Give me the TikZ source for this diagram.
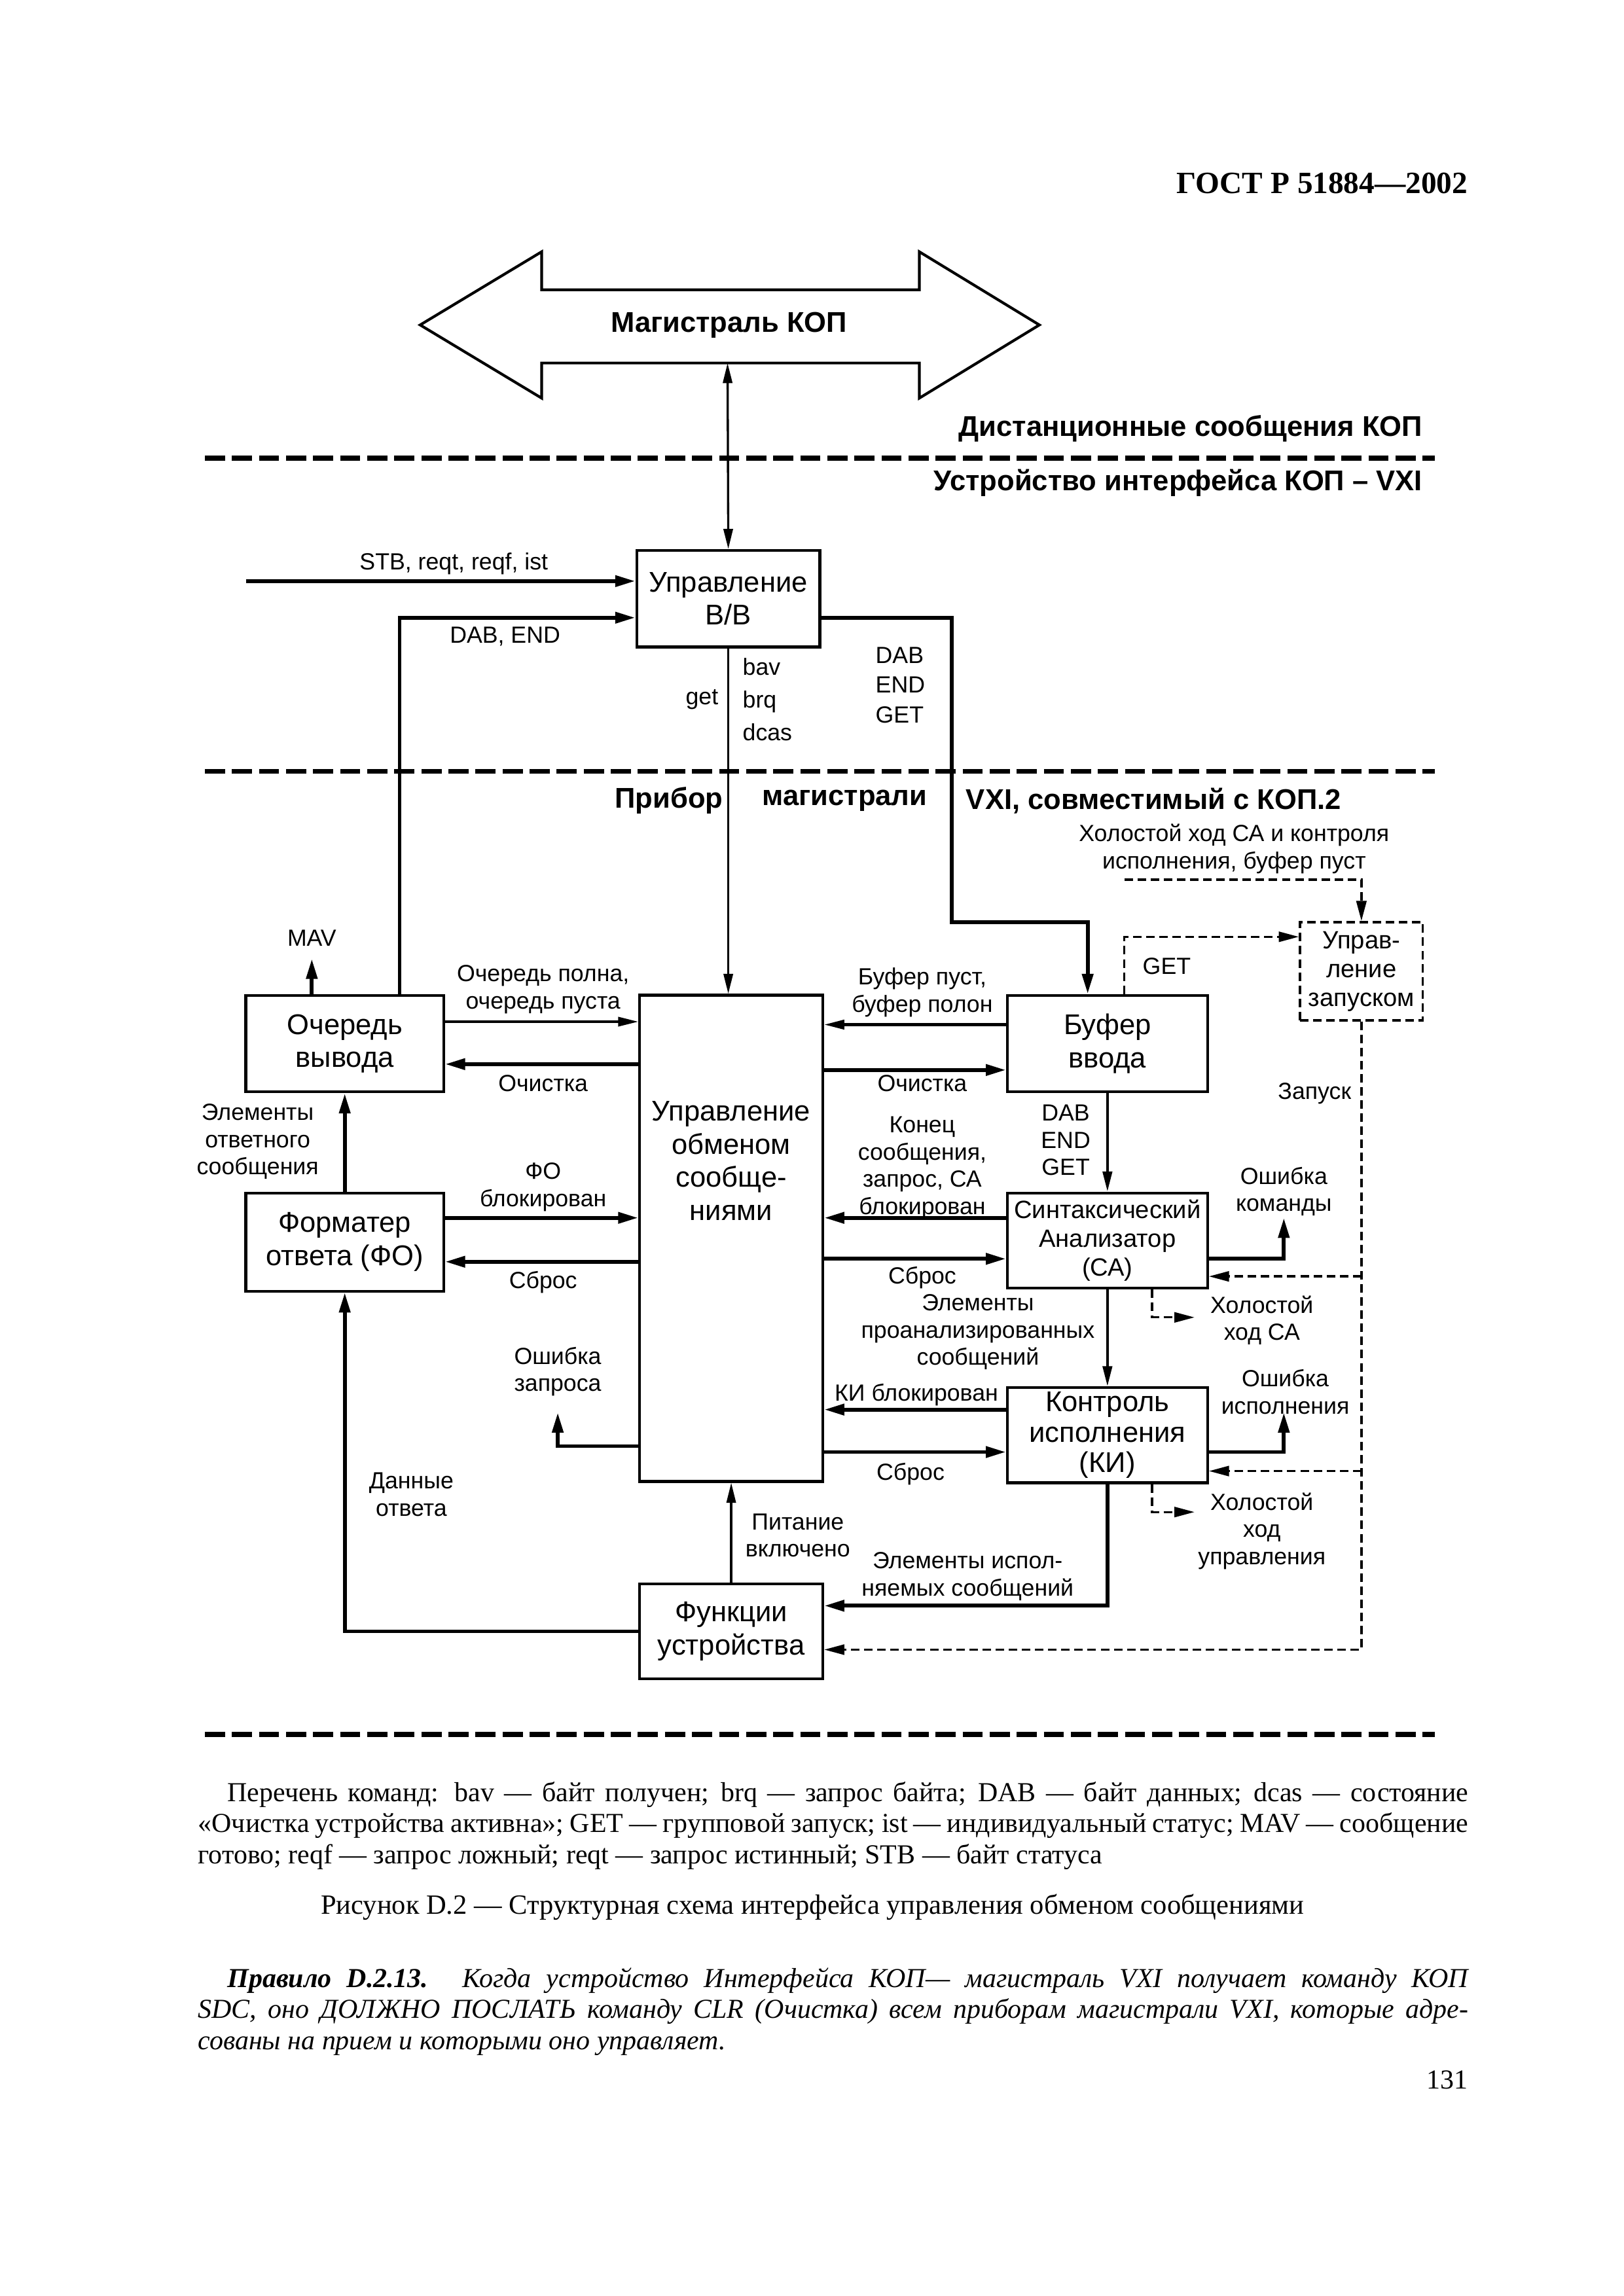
\documentclass[tikz,border=0pt]{standalone}
\usepackage{fontspec}
\setmainfont{Liberation Serif}
\setsansfont{Liberation Sans}
\usepackage{tikz}
\usetikzlibrary{arrows.meta,positioning,calc}

\newcommand\boxfont{\sffamily\fontsize{10.5}{12.2}\selectfont}
\newcommand\kifont{\sffamily\fontsize{10.5}{11.2}\selectfont}
\newcommand\smboxfont{\sffamily\fontsize{9.2}{10.6}\selectfont}
\newcommand\lblfont{\sffamily\fontsize{8.6}{10}\selectfont}
\newcommand\headfont{\sffamily\bfseries\fontsize{10.5}{12}\selectfont}
\newcommand\bodyfont{\rmfamily\fontsize{10.1}{11.4}\selectfont\spaceskip=0.25em plus 0.3em minus 0.16em}

\begin{document}
\begin{tikzpicture}[x=0.018934cm, y=-0.018934cm,
    box/.style={draw, line width=1pt, align=center, inner sep=0pt, font=\boxfont},
    lbl/.style={align=center, inner sep=0pt, font=\lblfont},
    hd/.style={inner sep=0pt, font=\headfont},
    thin/.style={line width=0.8pt, -{Triangle[length=2.6mm,width=1.2mm]}},
    bus/.style={line width=1.4pt, -{Triangle[length=2.6mm,width=1.4mm]}},
    dsh/.style={line width=0.8pt, dash pattern=on 1.1mm off 0.6mm, -{Triangle[length=2.6mm,width=1.3mm]}},
    sep/.style={line width=1.8pt, dash pattern=on 2.6mm off 0.9mm}]
  \useasboundingbox (0,0) rectangle (1109,1568.6);

  % page head
  \node[anchor=east, inner sep=0pt, font=\rmfamily\bfseries\fontsize{11.4}{13}\selectfont] (gost) at (1003,125) {ГОСТ Р 51884—2002};

  % bus
  \draw[line width=1pt, line join=miter] (287,222) -- (370,172) -- (370,198) -- (628,198) -- (628,172) -- (710,222)
    -- (628,272) -- (628,248) -- (370,248) -- (370,272) -- cycle;
  \node[hd] (magkop) at (498,222) {Магистраль КОП};
  \coordinate (busb) at (497,248);

  \node[hd, anchor=east] (dist) at (972,293) {Дистанционные сообщения КОП};
  \draw[sep] (140,313) -- (980,313);
  \node[hd, anchor=east] (ustr) at (972,330) {Устройство интерфейса КОП – VXI};
  \draw[sep] (140,527) -- (980,527);
  \node[hd] (pr1) at (457,547) {Прибор};
  \node[hd] (pr2) at (577,547) {магистрали};
  \node[hd] (pr3) at (788,547) {VXI, совместимый с КОП.2};
  \draw[sep] (140,1185) -- (980,1185);

  % boxes
  \node[box, minimum width=2.37cm, minimum height=1.25cm] (uvv) at (497.5,409) {Управление\\В/В};
  \node[box, minimum width=2.56cm, minimum height=1.25cm] (och) at (235.5,713) {Очередь\\вывода};
  \node[box, minimum width=2.56cm, minimum height=1.27cm] (fo) at (235.5,848.5) {Форматер\\ответа (ФО)};
  \node[box, minimum width=2.37cm, minimum height=6.29cm] (uo) at (499.5,846) {};
  \node[lbl, font=\boxfont] (uotxt) at (499.5,793) {Управление\\обменом\\сообще-\\ниями};
  \node[box, minimum width=2.59cm, minimum height=1.25cm] (buf) at (756.5,713) {Буфер\\ввода};
  \node[box, font=\smboxfont, minimum width=2.59cm, minimum height=1.23cm] (sa) at (756.5,847.5) {Синтаксический\\Анализатор\\(СА)};
  \node[box, font=\kifont, minimum width=2.59cm, minimum height=1.23cm] (ki) at (756.5,980.5) {Контроль\\исполнения\\(КИ)};
  \node[box, minimum width=2.37cm, minimum height=1.23cm] (fu) at (499.5,1114.5) {Функции\\устройства};
  \node[box, font=\smboxfont, dash pattern=on 1.1mm off 0.6mm, line width=0.8pt, minimum width=1.59cm, minimum height=1.27cm] (uz) at (930,663.5) {Управ-\\ление\\запуском};

  % free ends
  \coordinate (stb) at (168,397);
  \coordinate (mav) at (213,655);
  \coordinate (ozap) at (381,965);
  \coordinate (okom) at (877,832);
  \coordinate (oisp) at (877,965);
  \coordinate (idle) at (768,601);
  \coordinate (hsa) at (816,900);
  \coordinate (hki) at (816,1033);

  % upper part
  \draw[thin, {Triangle[length=2.6mm,width=1.2mm]}-{Triangle[length=2.6mm,width=1.2mm]}] (busb) -- (uvv.north);
  \draw[bus] (stb) -- (uvv.west |- stb);
  \node[lbl] (stbl) at (310,385) {STB, reqt, reqf, ist};
  \draw[bus] (273,0 |- och.north) |- (uvv.west |- 0,422);
  \node[lbl] (dabl) at (345,435) {DAB, END};
  \draw[bus] (uvv.east |- 0,422) -| (650,630) -| (743,0 |- buf.north);
  \node[lbl, align=left] (dabr) at (615,468) {DAB\\[1pt]END\\[1pt]GET};
  \draw[thin] (uvv.south) -- (uvv.south |- uo.north);
  \node[lbl, anchor=east] (getl) at (491,478) {get};
  \node[lbl, align=left, anchor=west] (bavl) at (507,478) {bav\\[2pt]brq\\[2pt]dcas};

  % left part
  \draw[bus] (mav |- och.north) -- (mav);
  \node[lbl] (mavl) at (213,641) {MAV};
  \draw[thin] (och.east |- 0,698) -- (uo.west |- 0,698);
  \node[lbl] (ochp) at (371,676) {Очередь полна,\\очередь пуста};
  \draw[bus] (uo.west |- 0,727) -- (och.east |- 0,727);
  \node[lbl] (ochl) at (371,740) {Очистка};
  \draw[bus] (fo.north) -- (och.south);
  \node[lbl] (elotv) at (176,780) {Элементы\\ответного\\сообщения};
  \draw[bus] (fo.east |- 0,832) -- (uo.west |- 0,832);
  \node[lbl] (fobl) at (371,811) {ФО\\блокирован};
  \draw[bus] (uo.west |- 0,862) -- (fo.east |- 0,862);
  \node[lbl] (sbrl) at (371,876) {Сброс};
  \draw[bus] (uo.west |- 0,988) -| (ozap);
  \node[lbl] (ozapl) at (381,937) {Ошибка\\запроса};
  \draw[bus] (fu.west) -| (fo.south);
  \node[lbl] (danl) at (281,1021) {Данные\\ответа};
  \draw[thin] (fu.north) -- (uo.south);
  \node[lbl] (pitl) at (545,1049) {Питание\\включено};

  % right part
  \draw[dsh] (idle) -| (uz.north);
  \node[lbl] (idlel) at (843,580) {Холостой ход СА и контроля\\исполнения, буфер пуст};
  \draw[dsh] (768,0 |- buf.north) |- (uz.west |- 0,640);
  \node[lbl] (getr) at (797,660) {GET};
  \draw[thin, line width=1pt] (buf.west |- 0,700) -- (uo.east |- 0,700);
  \node[lbl] (bufp) at (630,678) {Буфер пуст,\\буфер полон};
  \draw[bus] (uo.east |- 0,731) -- (buf.west |- 0,731);
  \node[lbl] (ochr) at (630,740) {Очистка};
  \draw[thin, line width=1pt] (buf.south) -- (sa.north);
  \node[lbl] (dabm) at (728,779) {DAB\\END\\GET};
  \draw[bus] (sa.west |- 0,832) -- (uo.east |- 0,832);
  \node[lbl] (konl) at (630,798) {Конец\\сообщения,\\запрос, СА\\блокирован};
  \draw[bus] (uo.east |- 0,860) -- (sa.west |- 0,860);
  \node[lbl] (sbrsa) at (630,873) {Сброс};
  \draw[bus] (sa.east |- 0,860) -| (okom);
  \node[lbl] (okoml) at (877,814) {Ошибка\\команды};
  \draw[dsh] (787,0 |- sa.south) |- (hsa);
  \node[lbl] (hsal) at (862,902) {Холостой\\ход СА};
  \draw[thin, line width=1pt] (sa.south) -- (ki.north);
  \node[lbl] (elpr) at (668,910) {Элементы\\проанализированных\\сообщений};
  \draw[bus] (ki.west |- 0,963) -- (uo.east |- 0,963);
  \node[lbl] (kibl) at (626,953) {КИ блокирован};
  \draw[bus] (uo.east |- 0,992) -- (ki.west |- 0,992);
  \node[lbl] (sbrki) at (622,1007) {Сброс};
  \draw[bus] (ki.east |- 0,992) -| (oisp);
  \node[lbl] (oispl) at (878,951) {Ошибка\\исполнения};
  \draw[dsh] (787,0 |- ki.south) |- (hki);
  \node[lbl] (hkil) at (862,1046) {Холостой\\ход\\управления};
  \draw[bus] (ki.south) |- (fu.east |- 0,1097);
  \node[lbl] (elisp) at (661,1077) {Элементы испол-\\няемых сообщений};
  \draw[dsh] (uz.south) |- (fu.east |- 0,1127);
  \draw[dsh] (uz.south |- 0,872) -- (sa.east |- 0,872);
  \draw[dsh] (uz.south |- 0,1005) -- (ki.east |- 0,1005);
  \node[lbl] (zapl) at (898,747) {Запуск};

  % text under the figure
  \node[anchor=north west, inner sep=0pt, text width=16.43cm, align=justify, font=\bodyfont] (legend) at (135,1217)
    {\hspace*{0.38cm}Перечень команд: bav — байт получен; brq — запрос байта; DAB — байт данных; dcas — состояние\linebreak
     «Очистка устройства активна»; GET — групповой запуск; ist — индивидуальный статус; MAV — сообщение\linebreak
     готово; reqf — запрос ложный; reqt — запрос истинный; STB — байт статуса};
  \node[inner sep=0pt, font=\bodyfont\fontsize{10.25}{11.4}\selectfont] (capt) at (555,1303) {Рисунок D.2 — Структурная схема интерфейса управления обменом сообщениями};
  \node[anchor=north west, inner sep=0pt, text width=16.43cm, align=justify, font=\bodyfont] (rule) at (135,1344)
    {\hspace*{0.38cm}\textbf{\textit{Правило D.2.13.}} \textit{Когда устройство Интерфейса КОП— магистраль VXI получает команду КОП\linebreak
     SDC, оно ДОЛЖНО ПОСЛАТЬ команду CLR (Очистка) всем приборам магистрали VXI, которые адре-\linebreak
     сованы на прием и которыми оно управляет.}};
  \node[anchor=east, inner sep=0pt, font=\bodyfont] (pg) at (1003,1421) {131};
\end{tikzpicture}
\end{document}
